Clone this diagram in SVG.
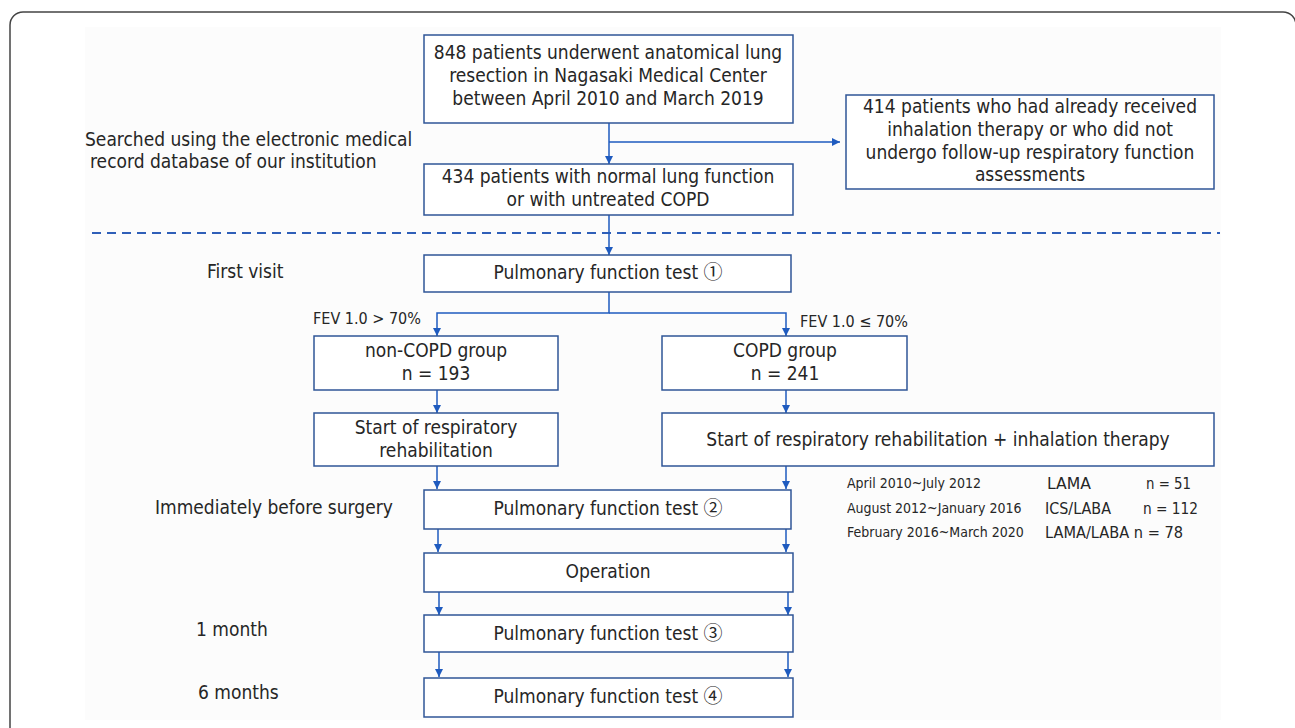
<svg xmlns="http://www.w3.org/2000/svg" width="1295" height="728" viewBox="0 0 1295 728">
<defs>
<marker id="ah" markerWidth="9" markerHeight="8" refX="8" refY="4" orient="auto" markerUnits="userSpaceOnUse">
<path d="M0,0 L8,4 L0,8 Z" fill="#1f5bbf"/>
</marker>
<style>
.box{fill:#ffffff;stroke:#2f5597;stroke-width:1.5}
.t{font-family:"DejaVu Sans Condensed","Liberation Sans",sans-serif;font-stretch:condensed;font-size:19px;fill:#262626;text-anchor:middle}
.l{font-family:"DejaVu Sans Condensed","Liberation Sans",sans-serif;font-stretch:condensed;font-size:19px;fill:#262626}
.s{font-family:"DejaVu Sans Condensed","Liberation Sans",sans-serif;font-stretch:condensed;font-size:14px;fill:#262626}
.m{font-family:"DejaVu Sans Condensed","Liberation Sans",sans-serif;font-stretch:condensed;font-size:16px;fill:#262626}
.k{font-family:"Noto Sans CJK JP",sans-serif;font-stretch:normal}
.c{fill:none;stroke:#1f5bbf;stroke-width:1.5}
</style>
</defs>
<rect x="0" y="0" width="1295" height="728" fill="#ffffff"/>
<rect x="10" y="12" width="1286" height="740" rx="13" fill="none" stroke="#444" stroke-width="1.5"/>
<rect x="85" y="27" width="1136" height="693" fill="#fcfcfc"/>

<g id="labels">
<text class="l" x="85" y="146">Searched using the electronic medical</text>
<text class="l" x="90" y="168">record database of our institution</text>
<text class="l" x="207" y="278">First visit</text>
<text class="l" x="155" y="514">Immediately before surgery</text>
<text class="l" x="196" y="636">1 month</text>
<text class="l" x="198" y="699">6 months</text>
<text class="m" x="313" y="324">FEV 1.0 &gt; 70%</text>
<text class="m" x="800" y="327">FEV 1.0 ≤ 70%</text>
</g>

<g id="therapy-table">
<text class="s" x="847" y="488">April 2010~July 2012</text>
<text class="m" x="1047" y="489" textLength="44" lengthAdjust="spacingAndGlyphs">LAMA</text>
<text class="m" x="1146" y="489" textLength="45" lengthAdjust="spacingAndGlyphs">n = 51</text>
<text class="s" x="847" y="513">August 2012~January 2016</text>
<text class="m" x="1045" y="514" textLength="66" lengthAdjust="spacingAndGlyphs">ICS/LABA</text>
<text class="m" x="1143" y="514" textLength="55" lengthAdjust="spacingAndGlyphs">n = 112</text>
<text class="s" x="847" y="537">February 2016~March 2020</text>
<text class="m" x="1045" y="538" textLength="138" lengthAdjust="spacingAndGlyphs">LAMA/LABA n = 78</text>
</g>

<g id="connectors">
<line class="c" x1="609" y1="123" x2="609" y2="164" marker-end="url(#ah)"/>
<line class="c" x1="609" y1="142" x2="840" y2="142" marker-end="url(#ah)"/>
<line x1="92" y1="233" x2="1220" y2="233" stroke="#2f5fb8" stroke-width="2" stroke-dasharray="9,6"/>
<line class="c" x1="609" y1="215" x2="609" y2="255" marker-end="url(#ah)"/>
<polyline class="c" points="609,291 609,313 437,313 437,336" marker-end="url(#ah)"/>
<polyline class="c" points="609,313 786,313 786,336" marker-end="url(#ah)"/>
<line class="c" x1="437" y1="390" x2="437" y2="413" marker-end="url(#ah)"/>
<line class="c" x1="786" y1="390" x2="786" y2="413" marker-end="url(#ah)"/>
<line class="c" x1="437" y1="466" x2="437" y2="489" marker-end="url(#ah)"/>
<line class="c" x1="786" y1="466" x2="786" y2="489" marker-end="url(#ah)"/>
<line class="c" x1="438" y1="528" x2="438" y2="552" marker-end="url(#ah)"/>
<line class="c" x1="786" y1="528" x2="786" y2="552" marker-end="url(#ah)"/>
<line class="c" x1="439" y1="592" x2="439" y2="615" marker-end="url(#ah)"/>
<line class="c" x1="788" y1="592" x2="788" y2="615" marker-end="url(#ah)"/>
<line class="c" x1="439" y1="652" x2="439" y2="677" marker-end="url(#ah)"/>
<line class="c" x1="788" y1="652" x2="788" y2="677" marker-end="url(#ah)"/>
</g>

<g id="n848">
<rect class="box" x="424" y="35" width="369" height="88"/>
<text class="t" x="608" y="59">848 patients underwent anatomical lung</text>
<text class="t" x="608" y="82">resection in Nagasaki Medical Center</text>
<text class="t" x="608" y="105">between April 2010 and March 2019</text>
</g>
<g id="n414">
<rect class="box" x="846" y="95" width="368" height="94"/>
<text class="t" x="1030" y="113">414 patients who had already received</text>
<text class="t" x="1030" y="136">inhalation therapy or who did not</text>
<text class="t" x="1030" y="159">undergo follow-up respiratory function</text>
<text class="t" x="1030" y="181">assessments</text>
</g>
<g id="n434">
<rect class="box" x="424" y="164" width="369" height="51"/>
<text class="t" x="608" y="183">434 patients with normal lung function</text>
<text class="t" x="608" y="206">or with untreated COPD</text>
</g>
<g id="pft1">
<rect class="box" x="424" y="255" width="367" height="37"/>
<text class="t" x="608" y="279">Pulmonary function test <tspan class="k">①</tspan></text>
</g>
<g id="noncopd">
<rect class="box" x="314" y="336" width="244" height="54"/>
<text class="t" x="436" y="357">non-COPD group</text>
<text class="t" x="436" y="380">n = 193</text>
</g>
<g id="copd">
<rect class="box" x="662" y="336" width="245" height="54"/>
<text class="t" x="785" y="357">COPD group</text>
<text class="t" x="785" y="380">n = 241</text>
</g>
<g id="rehab">
<rect class="box" x="314" y="413" width="244" height="53"/>
<text class="t" x="436" y="434">Start of respiratory</text>
<text class="t" x="436" y="457">rehabilitation</text>
</g>
<g id="rehab-inh">
<rect class="box" x="662" y="413" width="552" height="53"/>
<text class="t" x="938" y="446">Start of respiratory rehabilitation + inhalation therapy</text>
</g>
<g id="pft2">
<rect class="box" x="424" y="490" width="367" height="39"/>
<text class="t" x="608" y="515">Pulmonary function test <tspan class="k">②</tspan></text>
</g>
<g id="operation">
<rect class="box" x="424" y="553" width="369" height="39"/>
<text class="t" x="608" y="578">Operation</text>
</g>
<g id="pft3">
<rect class="box" x="424" y="615" width="369" height="37"/>
<text class="t" x="608" y="640">Pulmonary function test <tspan class="k">③</tspan></text>
</g>
<g id="pft4">
<rect class="box" x="424" y="678" width="369" height="39"/>
<text class="t" x="608" y="703">Pulmonary function test <tspan class="k">④</tspan></text>
</g>
</svg>
